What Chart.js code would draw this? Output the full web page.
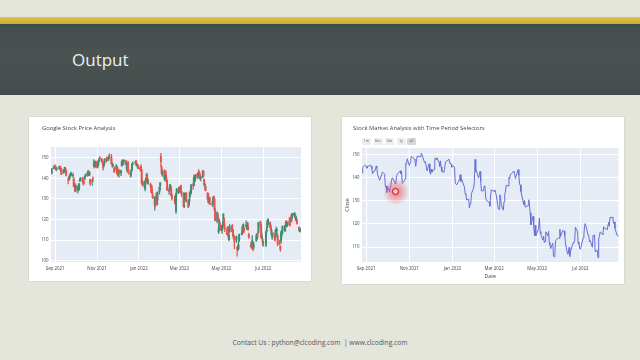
<!DOCTYPE html>
<html><head><meta charset="utf-8">
<script src="https://cdn.jsdelivr.net/npm/chart.js@4.4.1/dist/chart.umd.min.js"></script>
<style>
html,body{margin:0;padding:0;}
body{width:640px;height:360px;position:relative;overflow:hidden;background:#e4e5db;font-family:"Open Sans",sans-serif;}
#yellow{position:absolute;left:0;top:17px;width:640px;height:7px;background:linear-gradient(#dcc346,#cdae2e);}
#board{position:absolute;left:0;top:24px;width:640px;height:71px;background:linear-gradient(180deg,#3b4850 0,#444e4d 5%,#4a5351 45%,#444d4b 100%);}
#heading{position:absolute;left:72px;top:50px;color:#eef0ec;font-size:17px;line-height:20px;}
.panel{position:absolute;background:#fff;box-shadow:0 0 1.5px rgba(0,0,0,.18);}
.panel canvas{position:absolute;left:0;top:0;}
.btn{position:absolute;top:138px;height:6.5px;background:#eceef1;color:#555;font-size:3.6px;line-height:6.5px;text-align:center;border-radius:1px;}
.btn.active{background:#d4d6da;}
#glow{position:absolute;left:383px;top:179px;width:26px;height:26px;border-radius:50%;background:radial-gradient(circle,rgba(230,40,40,.6) 0,rgba(240,90,90,.35) 40%,rgba(255,160,160,0) 72%);}
#ring{position:absolute;left:392px;top:188px;width:5px;height:5px;border:1.6px solid #c40808;border-radius:50%;background:#f2c6c6;}
#footer{position:absolute;left:0;width:640px;top:338px;text-align:center;font-family:"Open Sans",sans-serif;font-size:6.7px;color:#555;white-space:pre;-webkit-font-smoothing:antialiased;}
</style></head>
<body>
<div id="yellow"></div>
<div id="board"></div>
<div id="heading">Output</div>
<div class="panel" style="left:29px;top:117px;width:282px;height:164px;"><canvas id="c1" width="282" height="164"></canvas></div>
<div class="panel" style="left:342px;top:117px;width:282px;height:167px;"><canvas id="c2" width="282" height="167"></canvas></div>
<div id="buttons"></div>
<div id="glow"></div><div id="ring"></div>
<div id="footer">Contact Us : python@clcoding.com  | www.clcoding.com</div>
<script>
const dates = [
'2021-08-26','2021-08-27','2021-08-30','2021-08-31',
'2021-09-01','2021-09-02','2021-09-03','2021-09-07','2021-09-08','2021-09-09','2021-09-10','2021-09-13','2021-09-14','2021-09-15','2021-09-16','2021-09-17','2021-09-20','2021-09-21','2021-09-22','2021-09-23','2021-09-24','2021-09-27','2021-09-28','2021-09-29','2021-09-30',
'2021-10-01','2021-10-04','2021-10-05','2021-10-06','2021-10-07','2021-10-08','2021-10-11','2021-10-12','2021-10-13','2021-10-14','2021-10-15','2021-10-18','2021-10-19','2021-10-20','2021-10-21','2021-10-22','2021-10-25','2021-10-26','2021-10-27','2021-10-28','2021-10-29',
'2021-11-01','2021-11-02','2021-11-03','2021-11-04','2021-11-05','2021-11-08','2021-11-09','2021-11-10','2021-11-11','2021-11-12','2021-11-15','2021-11-16','2021-11-17','2021-11-18','2021-11-19','2021-11-22','2021-11-23','2021-11-24','2021-11-26','2021-11-29','2021-11-30',
'2021-12-01','2021-12-02','2021-12-03','2021-12-06','2021-12-07','2021-12-08','2021-12-09','2021-12-10','2021-12-13','2021-12-14','2021-12-15','2021-12-16','2021-12-17','2021-12-20','2021-12-21','2021-12-22','2021-12-23','2021-12-27','2021-12-28','2021-12-29','2021-12-30','2021-12-31',
'2022-01-03','2022-01-04','2022-01-05','2022-01-06','2022-01-07','2022-01-10','2022-01-11','2022-01-12','2022-01-13','2022-01-14','2022-01-18','2022-01-19','2022-01-20','2022-01-21','2022-01-24','2022-01-25','2022-01-26','2022-01-27','2022-01-28','2022-01-31',
'2022-02-01','2022-02-02','2022-02-03','2022-02-04','2022-02-07','2022-02-08','2022-02-09','2022-02-10','2022-02-11','2022-02-14','2022-02-15','2022-02-16','2022-02-17','2022-02-18','2022-02-22','2022-02-23','2022-02-24','2022-02-25','2022-02-28',
'2022-03-01','2022-03-02','2022-03-03','2022-03-04','2022-03-07','2022-03-08','2022-03-09','2022-03-10','2022-03-11','2022-03-14','2022-03-15','2022-03-16','2022-03-17','2022-03-18','2022-03-21','2022-03-22','2022-03-23','2022-03-24','2022-03-25','2022-03-28','2022-03-29','2022-03-30','2022-03-31',
'2022-04-01','2022-04-04','2022-04-05','2022-04-06','2022-04-07','2022-04-08','2022-04-11','2022-04-12','2022-04-13','2022-04-14','2022-04-18','2022-04-19','2022-04-20','2022-04-21','2022-04-22','2022-04-25','2022-04-26','2022-04-27','2022-04-28','2022-04-29',
'2022-05-02','2022-05-03','2022-05-04','2022-05-05','2022-05-06','2022-05-09','2022-05-10','2022-05-11','2022-05-12','2022-05-13','2022-05-16','2022-05-17','2022-05-18','2022-05-19','2022-05-20','2022-05-23','2022-05-24','2022-05-25','2022-05-26','2022-05-27','2022-05-31',
'2022-06-01','2022-06-02','2022-06-03','2022-06-06','2022-06-07','2022-06-08','2022-06-09','2022-06-10','2022-06-13','2022-06-14','2022-06-15','2022-06-16','2022-06-17','2022-06-21','2022-06-22','2022-06-23','2022-06-24','2022-06-27','2022-06-28','2022-06-29','2022-06-30',
'2022-07-01','2022-07-05','2022-07-06','2022-07-07','2022-07-08','2022-07-11','2022-07-12','2022-07-13','2022-07-14','2022-07-15','2022-07-18','2022-07-19','2022-07-20','2022-07-21','2022-07-22','2022-07-25','2022-07-26','2022-07-27','2022-07-28','2022-07-29',
'2022-08-01','2022-08-02','2022-08-03','2022-08-04','2022-08-05','2022-08-08','2022-08-09','2022-08-10','2022-08-11','2022-08-12','2022-08-15','2022-08-16','2022-08-17','2022-08-18','2022-08-19','2022-08-22','2022-08-23','2022-08-24'
];
const opens = [
143.2,142.5,144.9,145.6,
145.8,145.4,144.3,144.8,145.8,145.1,144.6,142.9,144.0,143.4,144.9,143.9,139.2,140.1,139.8,141.5,141.2,141.2,139.8,137.0,137.2,
134.5,135.7,134.2,135.0,138.7,139.6,139.8,138.8,138.4,139.5,141.5,141.3,143.0,143.4,141.5,139.5,138.4,139.9,146.5,146.2,145.6,
148.0,145.6,146.6,148.5,150.1,149.1,148.3,146.6,146.1,147.6,149.7,149.0,149.5,149.4,151.0,150.1,147.0,146.0,144.9,144.4,145.3,
144.4,141.8,144.0,142.5,146.1,148.1,148.3,148.0,148.5,145.2,144.8,147.8,143.6,141.0,143.3,144.1,147.0,147.5,148.4,146.4,146.5,145.5,
144.5,145.6,144.2,136.9,138.0,134.8,138.5,141.3,141.6,137.3,137.1,136.5,134.8,131.8,127.2,128.4,130.6,132.2,129.5,133.7,
136.4,150.5,145.3,142.1,143.4,139.4,143.3,140.4,138.8,133.7,136.3,135.8,135.3,132.0,129.3,131.0,123.9,133.1,133.3,
134.5,134.6,136.5,133.4,132.6,126.3,129.8,130.4,132.9,128.9,127.3,130.8,132.2,133.0,136.9,136.5,139.1,140.0,141.8,140.7,143.2,142.9,141.9,
140.0,140.8,143.4,139.2,136.6,136.2,132.9,132.4,128.6,130.8,127.3,127.8,131.3,129.9,124.6,119.2,122.4,113.9,115.7,117.6,
114.5,116.8,117.9,120.4,115.9,113.5,116.0,113.5,110.2,114.2,116.0,117.1,115.3,110.9,111.8,110.1,106.6,105.7,106.0,109.8,112.6,
114.9,114.1,115.9,116.7,115.7,116.9,116.3,112.8,107.5,107.2,108.9,107.0,106.5,109.7,110.6,112.9,113.6,118.9,116.4,111.1,110.5,
108.8,107.5,114.1,116.0,117.5,118.7,116.8,112.7,111.4,113.5,112.0,111.5,114.5,115.1,112.1,108.9,107.0,109.6,112.8,113.4,
115.5,114.4,116.3,118.3,116.9,119.1,117.9,119.6,122.1,121.2,122.2,122.3,120.9,120.2,119.9,116.1,114.3,114.5
];
const highs = [
143.9,144.8,146.0,146.0,
146.6,145.8,145.3,145.9,145.9,145.7,144.8,144.3,144.3,145.4,145.1,144.0,140.1,140.7,141.6,142.3,143.0,142.5,140.3,137.9,137.5,
137.0,136.2,137.3,137.4,139.9,140.3,140.5,139.0,138.8,141.0,142.0,142.9,143.9,143.5,143.2,139.6,139.5,140.7,149.1,146.8,148.5,
148.4,147.1,148.6,149.7,150.5,149.7,148.9,147.4,147.6,149.6,150.3,149.9,150.0,150.9,151.9,151.6,147.9,147.1,145.6,146.6,146.1,
145.4,144.5,144.2,144.0,148.4,148.9,149.1,148.9,148.6,146.4,147.7,148.3,144.4,142.9,144.4,147.2,148.0,148.4,148.6,147.2,147.1,146.4,
145.6,146.6,144.3,139.7,138.5,138.8,140.5,142.1,142.5,139.9,137.8,136.8,136.5,133.0,131.1,129.4,132.9,132.4,133.4,135.9,
137.9,152.1,146.2,144.4,144.2,142.0,143.9,142.2,139.4,135.6,137.1,137.0,135.7,132.4,131.4,131.3,133.0,135.1,135.6,
136.0,135.6,136.7,133.9,133.0,131.1,133.1,132.4,133.0,129.6,130.0,133.2,134.2,136.9,137.6,141.5,140.6,141.6,141.9,142.7,144.2,143.2,142.1,
140.8,143.8,143.6,139.8,137.7,136.3,133.0,132.5,130.7,130.9,129.1,130.9,131.4,130.4,125.5,123.7,122.6,117.3,120.4,118.7,
117.2,119.1,122.9,120.6,117.9,115.5,116.6,116.6,114.7,117.6,117.0,117.5,115.4,113.0,112.0,112.0,106.8,107.6,109.6,112.9,116.4,
117.3,117.9,116.1,119.4,117.7,118.7,118.4,113.4,108.9,108.6,112.2,107.9,109.2,112.9,113.3,113.4,118.6,119.3,117.9,113.2,111.0,
109.4,114.1,116.4,119.9,120.4,118.8,117.6,115.7,113.3,113.6,113.2,115.2,116.4,115.4,113.0,110.0,107.3,114.4,114.7,116.9,
117.1,117.1,119.4,119.5,118.9,120.9,118.2,121.0,122.3,123.0,123.3,123.4,122.2,121.7,120.0,116.5,115.9,115.9
];
const lows = [
142.0,142.3,144.6,144.7,
145.0,143.9,143.6,144.4,144.1,143.6,141.7,142.4,142.6,142.8,143.7,141.2,137.3,138.9,139.4,140.9,141.1,140.6,135.8,135.9,133.5,
133.4,132.8,134.1,134.3,138.4,139.0,138.3,136.7,137.1,139.3,140.5,140.9,142.5,141.2,141.3,136.5,136.6,138.5,145.5,144.9,145.3,
145.0,145.0,146.3,148.1,148.5,147.8,146.8,143.9,145.8,147.1,148.0,148.7,148.9,148.5,149.6,146.9,145.4,145.4,142.9,143.6,142.2,
141.4,140.9,140.6,141.3,145.8,146.6,147.4,146.5,146.5,143.7,142.9,144.1,142.0,140.5,141.8,143.8,146.6,146.8,146.2,145.5,145.8,144.5,
143.5,143.8,137.5,136.7,135.9,133.9,137.1,140.2,137.9,137.1,135.7,133.1,132.4,130.3,124.6,126.3,126.9,128.2,127.1,132.3,
134.5,145.5,141.8,141.0,139.5,138.6,141.9,138.3,134.0,132.2,135.2,134.3,131.5,129.5,127.9,127.4,123.1,131.4,132.5,
133.2,133.4,133.0,131.2,126.2,125.7,129.3,129.4,128.5,125.8,126.7,128.9,131.3,132.6,134.6,136.2,138.8,138.5,139.8,139.8,142.5,141.5,139.6,
138.7,140.1,140.9,136.4,134.7,133.9,129.7,128.1,128.4,127.2,126.3,127.5,127.6,124.6,119.3,118.4,119.4,113.3,115.2,114.7,
113.2,116.2,116.8,115.3,114.1,112.6,112.6,111.6,109.6,113.8,114.0,115.2,111.6,110.2,105.8,108.8,102.2,104.9,105.3,109.3,112.6,
113.3,113.5,113.8,116.5,115.1,116.6,114.9,110.8,106.5,105.8,107.5,104.8,105.5,109.4,110.6,110.9,113.6,115.8,111.1,110.6,107.6,
107.0,106.8,113.5,115.9,117.5,116.2,114.6,112.4,110.3,111.4,109.6,110.9,114.0,112.2,107.3,107.6,104.6,108.4,111.6,113.0,
114.7,114.4,116.3,116.6,116.7,117.4,116.6,118.6,118.9,119.8,121.6,121.0,119.5,119.6,117.7,114.7,114.1,113.9
];
const closes = [
142.1,144.6,145.5,145.5,
145.2,144.2,144.9,145.6,145.1,143.8,141.9,143.4,143.4,145.2,144.4,141.5,139.0,139.6,141.0,141.9,142.6,141.6,136.2,136.5,133.7,
136.5,133.8,136.2,137.3,139.2,140.1,138.4,137.4,138.1,140.8,141.7,142.7,143.1,141.8,142.9,137.6,138.8,139.7,146.4,146.1,148.3,
145.4,146.6,148.4,149.4,149.1,148.1,147.6,145.0,147.2,149.4,149.3,149.2,149.1,150.7,150.0,147.1,146.6,146.7,143.1,146.1,142.5,
141.6,143.8,142.5,143.7,148.0,148.7,147.9,148.7,146.7,145.0,147.4,144.8,142.8,142.4,144.2,146.9,147.1,148.1,146.4,146.5,146.0,144.7,
145.1,144.4,137.7,137.7,137.0,138.6,139.7,141.4,138.5,139.4,136.0,133.2,132.6,130.4,130.8,127.0,128.7,129.2,133.3,135.7,
137.9,148.0,142.7,143.0,140.0,141.5,142.8,138.6,134.3,134.5,136.5,136.2,131.6,130.2,129.5,127.7,132.6,134.8,134.4,
134.0,134.8,133.6,132.5,126.4,126.4,132.7,132.0,128.6,126.0,129.7,133.0,133.8,136.8,136.5,140.3,139.6,141.5,141.7,142.6,143.0,141.8,139.7,
140.7,143.6,141.1,137.1,137.0,134.0,129.8,128.3,130.2,127.3,128.0,130.5,128.2,124.9,119.6,123.3,119.5,115.0,119.4,114.9,
117.2,118.1,122.6,116.7,115.7,113.0,114.6,111.9,112.4,116.6,114.8,116.8,111.9,110.8,109.3,111.7,106.0,105.8,107.8,112.8,114.0,
113.7,117.7,114.6,117.1,117.2,117.0,114.9,111.4,106.9,107.2,109.8,105.9,107.9,112.0,111.9,112.7,118.6,116.6,111.3,112.1,109.4,
109.0,113.9,115.2,119.3,120.2,116.5,115.0,114.8,112.3,112.8,109.9,115.1,114.9,115.3,108.0,108.6,105.4,113.6,114.6,116.6,
115.5,115.3,118.8,118.2,118.2,117.5,117.5,120.7,119.0,122.9,122.9,122.5,120.3,120.9,118.1,115.1,114.8,114.7
];
const xTickDates = ['2021-09-01','2021-11-01','2022-01-01','2022-03-01','2022-05-01','2022-07-01'];
const xTickLabels = ['Sep 2021','Nov 2021','Jan 2022','Mar 2022','May 2022','Jul 2022'];
const leftYTicks = [100,110,120,130,140,150];
const rightYTicks = [110,120,130,140,150];
const rangeButtons = ['1m','6m','3m','1y','all'];
const leftTitle = 'Google Stock Price Analysis';
const rightTitle = 'Stock Market Analysis with Time Period Selectors';
const xAxisTitle = 'Date';
const yAxisTitle = 'Close';

if (![opens,highs,lows,closes].every(a=>a.length===dates.length)) console.error('length mismatch', dates.length, opens.length, highs.length, lows.length, closes.length);

const FONT = '"Open Sans", sans-serif';
const DAY = 864e5, T0 = Date.parse('2021-09-01');
const dayOf = d => (Date.parse(d) - T0) / DAY;
const xs = dates.map(dayOf);
const tickXs = xTickDates.map(dayOf);
const UP = '#3f8c70', DOWN = '#e6554c';
const candleColors = closes.map((c,i) => c >= opens[i] ? UP : DOWN);

const plotBg = {id:'plotBg', beforeDraw(c){const {ctx, chartArea:a} = c; ctx.save(); ctx.fillStyle = '#E5ECF6'; ctx.fillRect(a.left, a.top, a.width, a.height); ctx.restore();}};
const closeLabel = {id:'closeLabel', afterDraw(c){const {ctx, chartArea:a} = c; ctx.save(); ctx.translate(5.5, (a.top + a.bottom) / 2); ctx.rotate(-Math.PI/2); ctx.textAlign = 'center'; ctx.textBaseline = 'middle'; ctx.fillStyle = '#444'; ctx.font = '5.3px ' + FONT; ctx.fillText(yAxisTitle, 0, 0); ctx.restore();}};

function xScale(min, max, h){
  return {type:'linear', min, max, offset:false,
    afterBuildTicks: s => { s.ticks = tickXs.map(v => ({value:v})); },
    afterFit: s => { s.height = h; },
    ticks:{autoSkip:false, maxRotation:0, padding:4, color:'#444', font:{family:FONT, size:4.4}, callback:(v,i) => xTickLabels[i]},
    grid:{color:'#ffffff', lineWidth:1, drawTicks:false, offset:false}, border:{display:false}};
}
function yScale(min, max, ticks, w){
  return {type:'linear', min, max,
    afterBuildTicks: s => { s.ticks = ticks.map(v => ({value:v})); },
    afterFit: s => { s.width = w; },
    ticks:{padding:2.5, color:'#444', font:{family:FONT, size:4.4}},
    grid:{color:'#ffffff', lineWidth:1, drawTicks:false}, border:{display:false}};
}
function titleOpts(text, bottom){
  return {display:true, text, align:'start', color:'#444', font:{family:FONT, size:5.8, weight:'normal'}, padding:{top:2, bottom}};
}

new Chart(document.getElementById('c1'), {
  type:'bar',
  data:{datasets:[
    {data: xs.map((x,i) => ({x, y:[lows[i], highs[i]]})), backgroundColor:candleColors, barThickness:0.6, grouped:false, order:1},
    {data: xs.map((x,i) => ({x, y:[opens[i], closes[i]]})), backgroundColor:candleColors, barThickness:1.3, grouped:false, order:0, minBarLength:0.6}
  ]},
  options:{responsive:false, animation:false, events:[],
    layout:{padding:{left:13, right:10, top:6, bottom:0}},
    plugins:{legend:{display:false}, tooltip:{enabled:false}, title:titleOpts(leftTitle, 15)},
    scales:{x:xScale(-6, 358, 19), y:yScale(99.4, 155.2, leftYTicks, 9)}},
  plugins:[plotBg]
});

const xr = xScale(-6, 357, 22);
xr.title = {display:true, text:xAxisTitle, color:'#444', font:{family:FONT, size:5.3}, padding:{top:0, bottom:4.5}};
new Chart(document.getElementById('c2'), {
  type:'line',
  data:{datasets:[{data: xs.map((x,i) => ({x, y:closes[i]})), borderColor:'#6670d4', borderWidth:1, pointRadius:0, tension:0, fill:false}]},
  options:{responsive:false, animation:false, events:[],
    layout:{padding:{left:11, right:5.5, top:6, bottom:0}},
    plugins:{legend:{display:false}, tooltip:{enabled:false}, title:titleOpts(rightTitle, 16)},
    scales:{x:xr, y:yScale(103.5, 153, rightYTicks, 9)}},
  plugins:[plotBg, closeLabel]
});

const btnLeft = [362, 373.5, 385, 396.5, 407];
const btnBox = document.getElementById('buttons');
rangeButtons.forEach((t,i) => {
  const b = document.createElement('div');
  b.className = 'btn' + (t === 'all' ? ' active' : '');
  b.style.left = btnLeft[i] + 'px';
  b.style.width = '9px';
  b.textContent = t;
  btnBox.appendChild(b);
});
</script>
</body></html>
